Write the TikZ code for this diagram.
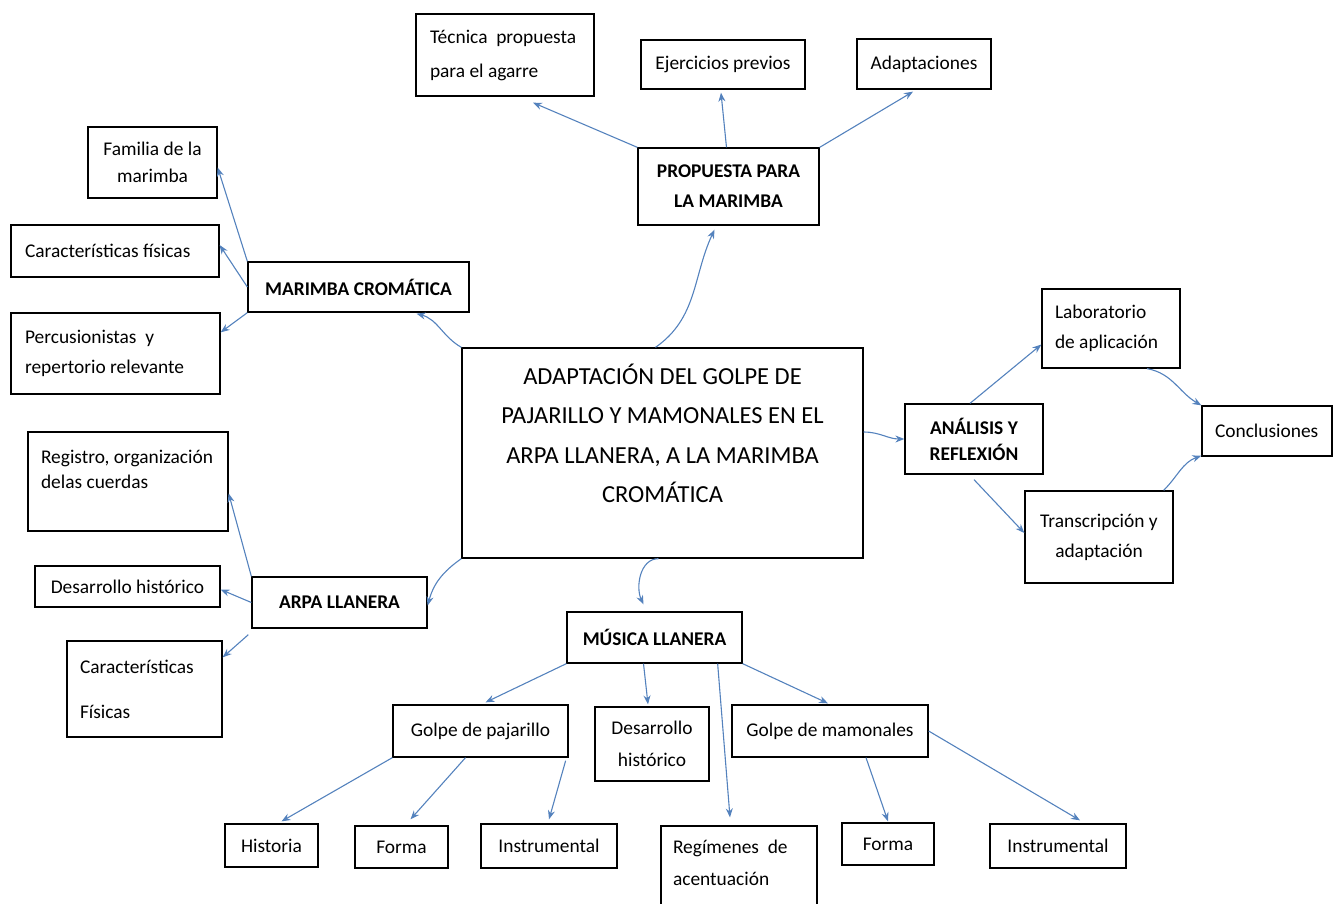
\documentclass[tikz,border=0pt]{standalone}
\usepackage{fontspec}
\setmainfont{Carlito}
\usetikzlibrary{arrows.meta}
\definecolor{arrowblue}{RGB}{84,130,189}
\begin{document}
\begin{tikzpicture}[x=1pt,y=1pt,
    boldtext/.style={font=\fontsize{19.4}{30}\selectfont\bfseries},
    leftbox/.style={align=flush left,inner xsep=#1}]
  \useasboundingbox (0,0) rectangle (1333,-903);
  \clip (0,0) rectangle (1333,-903);
        \begin{scope}[every node/.style={draw,line width=1.3pt,align=center,inner sep=2pt,font=\fontsize{19.4}{30}\selectfont}]
          % centro
          \node[minimum width=401pt,minimum height=210pt,font=\fontsize{24.5}{39.3}\selectfont] (main) at (662.5,-453)
            {ADAPTACIÓN DEL GOLPE DE\\PAJARILLO Y MAMONALES EN EL\\ARPA LLANERA, A LA MARIMBA\\CROMÁTICA\\\mbox{}};
          % propuesta
          \node[minimum width=181pt,minimum height=77pt,boldtext] (propuesta) at (728.5,-186.5) {PROPUESTA PARA\\LA MARIMBA};
          \node[minimum width=178pt,minimum height=82pt,leftbox=14pt,text width=150pt] (tecnica) at (505,-55) {Técnica~ propuesta\\[4pt]para el agarre};
          \node[minimum width=164pt,minimum height=49pt] (ejercicios) at (723,-64.5) {Ejercicios previos};
          \node[minimum width=134pt,minimum height=50pt] (adaptaciones) at (924,-64) {Adaptaciones};
          % marimba
          \node[minimum width=221pt,minimum height=50pt,boldtext] (marimba) at (358.5,-287) {MARIMBA CROMÁTICA};
          \node[minimum width=129pt,minimum height=71pt] (familia) at (152.5,-162.5) {Familia de la\\[-3pt]marimba};
          \node[minimum width=208pt,minimum height=52pt,leftbox=14pt,text width=180pt] (caracm) at (115,-251) {Características físicas};
          \node[minimum width=209pt,minimum height=81pt,leftbox=14pt,text width=181pt] (percu) at (115.5,-353.5) {Percusionistas~ y\\repertorio relevante};
          % analisis
          \node[minimum width=138pt,minimum height=70pt,boldtext] (analisis) at (974,-439) {ANÁLISIS Y\\[-4pt]REFLEXIÓN};
          \node[minimum width=138pt,minimum height=79pt,leftbox=13pt,text width=112pt] (lab) at (1111,-328.5) {Laboratorio\\de aplicación};
          \node[minimum width=148pt,minimum height=92pt] (trans) at (1099,-537) {Transcripción y\\adaptación};
          \node[minimum width=130pt,minimum height=50pt,leftbox=13pt,text width=104pt] (concl) at (1267,-431) {Conclusiones};
          % arpa
          \node[minimum width=175pt,minimum height=51pt,boldtext] (arpa) at (339.5,-602.5) {ARPA LLANERA};
          \node[minimum width=200pt,minimum height=99pt,leftbox=13pt,text width=174pt] (registro) at (128,-481.5) {Registro, organización\\[-5pt]delas cuerdas\\[-5pt]\mbox{}};
          \node[minimum width=185pt,minimum height=41pt] (desarr1) at (127.5,-586.5) {Desarrollo histórico};
          \node[minimum width=155pt,minimum height=96pt,leftbox=13pt,text width=129pt] (caracf) at (144.5,-689) {Características\\[15pt]Físicas};
          % musica
          \node[minimum width=175pt,minimum height=51pt,boldtext] (musica) at (654.5,-637.5) {MÚSICA LLANERA};
          \node[minimum width=175pt,minimum height=52pt] (pajarillo) at (480.5,-731) {Golpe de pajarillo};
          \node[minimum width=114pt,minimum height=74pt] (desarr2) at (652,-744) {Desarrollo\\[2pt]histórico};
          \node[minimum width=196pt,minimum height=52pt] (mamonales) at (830,-731) {Golpe de mamonales};
          \node[minimum width=93pt,minimum height=43pt] (historia) at (271.5,-845.5) {Historia};
          \node[minimum width=93pt,minimum height=42pt] (forma1) at (401.5,-847) {Forma};
          \node[minimum width=136pt,minimum height=44pt] (instr1) at (549,-846) {Instrumental};
          \node[minimum width=156pt,minimum height=106pt,leftbox=12pt,text width=132pt] (regimenes) at (739,-879) {Regímenes~ de\\[2pt]acentuación\\[2pt]\mbox{}};
          \node[minimum width=92pt,minimum height=42pt] (forma2) at (888,-844) {Forma};
          \node[minimum width=136pt,minimum height=44pt] (instr2) at (1058,-846) {Instrumental};
        \end{scope}
        \begin{scope}[every edge/.style={draw=arrowblue,line width=1.1pt,-{Stealth[length=9pt,width=7pt]}}]
          \path ([xshift=-7pt]main.north) edge[out=35,in=-115] ([xshift=-14pt,yshift=-4pt]propuesta.south);
          \path (main.north west) edge[out=150,in=-15] ([xshift=58pt,yshift=-1pt]marimba.south);
          \path ([yshift=21pt]main.east) edge[out=0,in=180] (analisis.west);
          \path (main.south west) edge[out=215,in=75] ([yshift=-3pt]arpa.east);
          \path ([xshift=-4pt]main.south) edge[out=180,in=115] ([xshift=-11pt,yshift=7pt]musica.north);
          \path (propuesta.north west) edge ([xshift=28pt,yshift=-6pt]tecnica.south);
          \path ([xshift=-2pt]propuesta.north) edge ([xshift=-2pt,yshift=-3pt]ejercicios.south);
          \path (propuesta.north east) edge ([xshift=-11pt,yshift=-2pt]adaptaciones.south);
          \path (marimba.north west) edge ([yshift=-5pt]familia.east);
          \path (marimba.west) edge ([yshift=6pt]caracm.east);
          \path (marimba.south west) edge ([yshift=-20pt]percu.north east);
          \path ([xshift=-4pt]analisis.north) edge ([yshift=-16pt]lab.west);
          \path ([yshift=-5pt]analisis.south) edge ([yshift=4pt]trans.west);
          \path ([xshift=36pt]lab.south) edge[out=-10,in=150] (concl.north west);
          \path ([xshift=-10pt]trans.north east) edge[out=45,in=200] ([yshift=1pt]concl.south west);
          \path (arpa.north west) edge ([yshift=-12pt]registro.east);
          \path (arpa.west) edge ([yshift=-3pt]desarr1.east);
          \path ([xshift=-3pt,yshift=-6pt]arpa.south west) edge ([yshift=-17pt]caracf.north east);
          \path (musica.south west) edge ([xshift=5pt,yshift=2pt]pajarillo.north);
          \path ([xshift=-11pt]musica.south) edge ([xshift=-4pt,yshift=2pt]desarr2.north);
          \path ([xshift=-25pt]musica.south east) edge ([xshift=-9pt,yshift=8pt]regimenes.north);
          \path (musica.south east) edge ([xshift=-2pt,yshift=1pt]mamonales.north);
          \path (pajarillo.south west) edge ([xshift=10pt,yshift=2pt]historia.north);
          \path ([xshift=-15pt]pajarillo.south) edge ([xshift=9pt,yshift=6pt]forma1.north);
          \path ([xshift=-3pt,yshift=-3pt]pajarillo.south east) edge ([yshift=4pt]instr1.north);
          \path ([xshift=36pt]mamonales.south) edge ([yshift=1pt]forma2.north);
          \path (mamonales.east) edge ([xshift=22pt,yshift=3pt]instr2.north);
        \end{scope}
      \end{tikzpicture}
\end{document}
